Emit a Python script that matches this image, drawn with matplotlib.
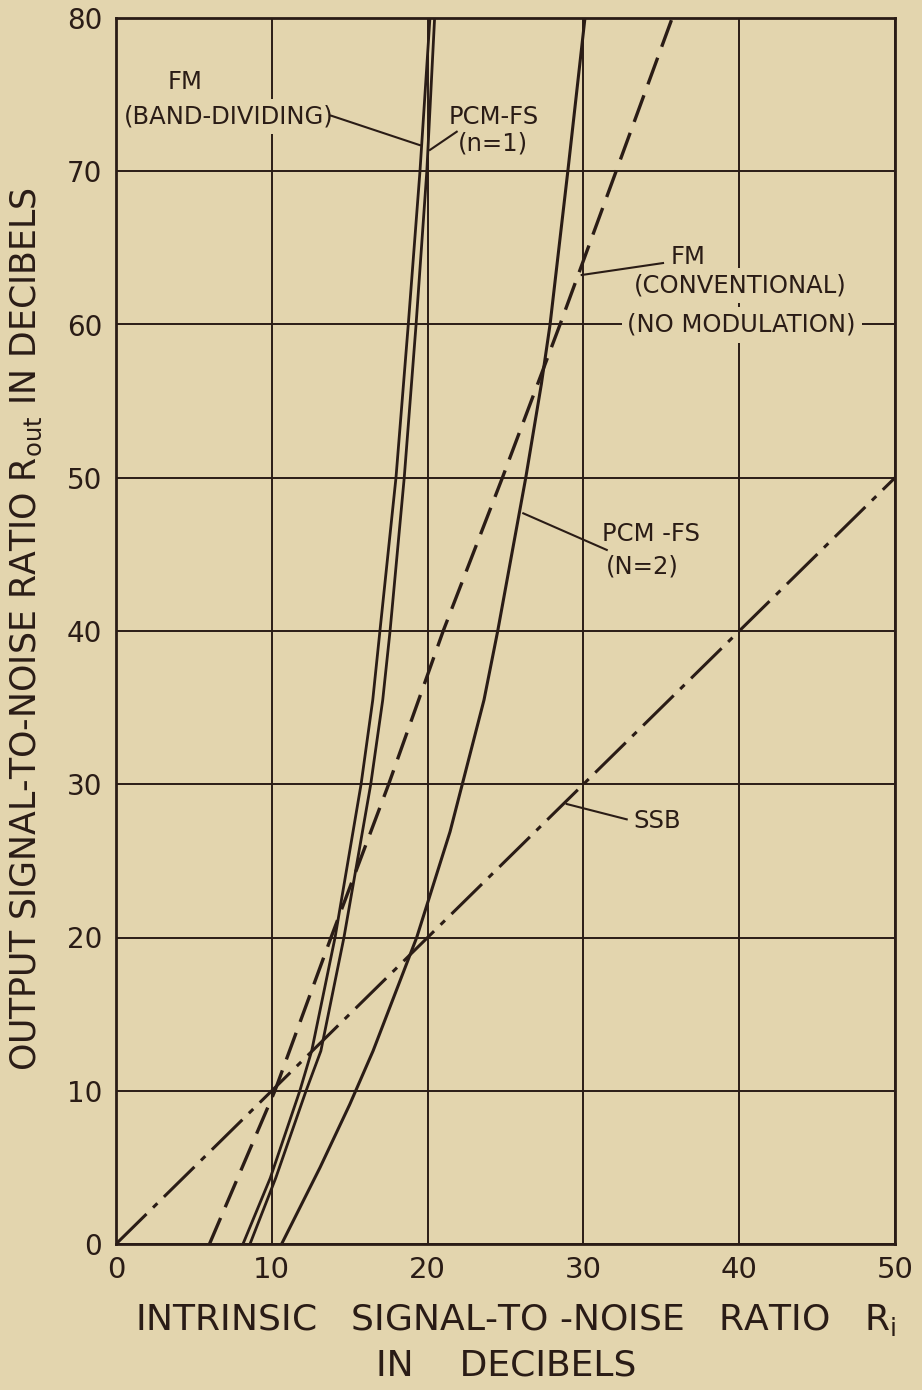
import matplotlib
matplotlib.use("Agg")
import matplotlib.pyplot as plt

BG = "#e3d5ae"
INK = "#2a1c16"

# ---- data (x = intrinsic S/N dB, y = output S/N dB) ----
ssb_x = [0, 50]
ssb_y = [0, 50]

fm_conv_x = [6.0, 10.2, 13.8, 17.5, 21.0, 24.8, 28.5, 32.1, 35.7]
fm_conv_y = [0, 10, 20, 30, 40, 50, 60, 70, 80]

fm_band_y = [0, 4.3, 10, 12.6, 20, 30, 35.5, 40, 50, 60, 70, 80]
fm_band_x = [8.15, 9.9, 11.8, 12.56, 14.06, 15.73, 16.48, 16.94, 17.97, 18.76, 19.51, 20.15]

pcm1_y = [0, 4.3, 10, 12.6, 20, 30, 35.5, 40, 50, 60, 70, 80]
pcm1_x = [8.6, 10.25, 12.2, 13.15, 14.63, 16.35, 17.12, 17.59, 18.5, 19.26, 19.95, 20.45]

pcm2_y = [0, 5, 9.1, 12.6, 20, 26.9, 35.5, 40, 50, 56.1, 60, 70, 80]
pcm2_x = [10.63, 13.1, 15.0, 16.5, 19.3, 21.44, 23.62, 24.5, 26.3, 27.3, 27.86, 29.0, 30.1]

xticks = [0, 10, 20, 30, 40, 50]
yticks = [0, 10, 20, 30, 40, 50, 60, 70, 80]

plt.rcParams.update({"font.family": "DejaVu Sans", "text.color": INK})

fig = plt.figure(figsize=(9.22, 13.9), dpi=100, facecolor=BG)
ax = fig.add_axes([116/922, 1 - 1244/1390, (895 - 116)/922, (1244 - 18)/1390])
ax.set_facecolor(BG)
ax.set_xlim(0, 50); ax.set_ylim(0, 80)
ax.set_xticks(xticks); ax.set_yticks(yticks)
ax.tick_params(length=0, colors=INK)
ax.tick_params(axis="x", labelsize=21, pad=9)
ax.tick_params(axis="y", labelsize=20, pad=10)
for s in ax.spines.values():
    s.set_color(INK); s.set_linewidth(2.0); s.set_zorder(6)
ax.grid(True, color=INK, lw=1.4)
ax.set_axisbelow(True)

# curves
ax.plot(ssb_x, ssb_y, color=INK, lw=2.2, dashes=(14, 3, 2, 3), zorder=3)
ax.plot(fm_conv_x, fm_conv_y, color=INK, lw=2.4, dashes=(8.5, 3.5), zorder=3)
ax.plot(fm_band_x, fm_band_y, color=INK, lw=2.0, zorder=3)
ax.plot(pcm1_x, pcm1_y, color=INK, lw=2.0, zorder=3)
ax.plot(pcm2_x, pcm2_y, color=INK, lw=2.2, zorder=3)

# labels + leader lines (leaders drawn above the label boxes)
lab = dict(fontsize=17.5, color=INK, ha="center", va="center", zorder=5)
box = dict(facecolor=BG, edgecolor="none", pad=4)
ax.text(4.43, 75.8, "FM", **lab)
ax.text(7.25, 73.56, "(BAND-DIVIDING)", bbox=box, **lab)
ax.plot([13.8, 19.51], [73.63, 71.7], color=INK, lw=1.5, zorder=6)
ax.text(24.22, 73.56, "PCM-FS", **lab)
ax.text(24.22, 71.83, "(n=1)", **lab)
ax.plot([20.15, 21.87], [71.39, 72.58], color=INK, lw=1.5, zorder=6)

ax.text(36.73, 64.43, "FM", **lab)
ax.text(40.05, 62.53, "(CONVENTIONAL)", bbox=box, **lab)
ax.text(40.16, 59.97, "(NO MODULATION)", bbox=box, **lab)
ax.plot([35.11, 29.89], [64.01, 63.23], color=INK, lw=1.5, zorder=6)

ax.text(34.33, 46.32, "PCM -FS", **lab)
ax.text(33.79, 44.2, "(N=2)", **lab)
ax.plot([26.14, 31.5], [47.68, 45.29], color=INK, lw=1.5, zorder=6)

ax.text(34.76, 27.62, "SSB", **lab)
ax.plot([28.93, 32.78], [28.71, 27.71], color=INK, lw=1.5, zorder=6)

# axis titles
fig.text(26/922, 1 - 629/1390, "OUTPUT SIGNAL-TO-NOISE RATIO R$_\\mathregular{out}$ IN DECIBELS",
         rotation=90, ha="center", va="center", fontsize=25, color=INK)
fig.text(516/922, 1 - 1320/1390, "INTRINSIC   SIGNAL-TO -NOISE   RATIO   R$_\\mathregular{i}$",
         ha="center", va="center", fontsize=26, color=INK)
fig.text(506/922, 1 - 1365/1390, "IN    DECIBELS", ha="center", va="center", fontsize=26, color=INK)

fig.savefig("out.png", dpi=100, facecolor=BG)
